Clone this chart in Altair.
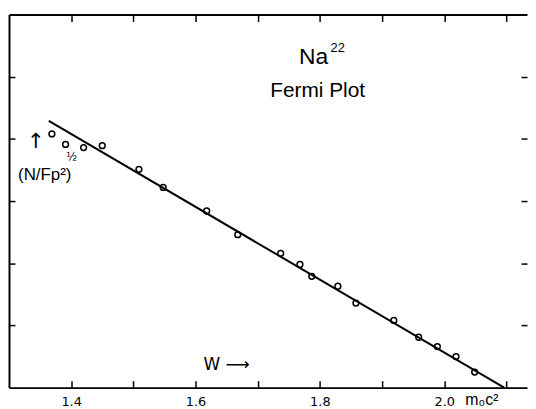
import altair as alt
import pandas as pd

# measured data (W in m0c^2 units, Kurie value in axis units)
W_pts = [1.369, 1.391, 1.420, 1.450, 1.509, 1.548, 1.618, 1.668, 1.737,
         1.768, 1.787, 1.829, 1.858, 1.919, 1.959, 1.989, 2.019, 2.049]
K_pts = [4.08, 3.91, 3.86, 3.89, 3.51, 3.22, 2.84, 2.46, 2.16,
         1.98, 1.79, 1.63, 1.36, 1.08, 0.81, 0.66, 0.50, 0.25]

# fitted straight line
fit_W = [1.364, 2.0965]
fit_K = [4.29, 0.0]

x_tick_values = [1.4, 1.5, 1.6, 1.7, 1.8, 1.9, 2.0, 2.1]
x_label_values = [1.4, 1.6, 1.8, 2.0]
y_tick_values = [1, 2, 3, 4, 5]

x_domain = [1.3, 2.1332]
y_domain = [0, 6]

# annotations, centred
c_text = ["Na", "Fermi Plot", "(N/Fp²)", "½"]
c_W = [1.790, 1.7964, 1.3575, 1.4010]
c_K = [5.202, 4.675, 3.335, 3.64]
c_size = [23, 21, 17, 12]
# annotations, left aligned
l_text = ["22", "m₀c²"]
l_W = [1.8172, 2.0340]
l_K = [5.40, -0.287]
l_size = [13, 16]
# arrows (DejaVu glyphs)
a_text = ["↑", "W ⟶"]
a_W = [1.3431, 1.6128]
a_K = [3.846, 0.287]
a_size = [21, 17]
a_align_left = [False, True]

pts = pd.DataFrame({"W": W_pts, "K": K_pts})
fit = pd.DataFrame({"W": fit_W, "K": fit_K})
ann_c = pd.DataFrame({"W": c_W, "K": c_K, "t": c_text, "s": c_size})
ann_l = pd.DataFrame({"W": l_W, "K": l_K, "t": l_text, "s": l_size})
ann_a = pd.DataFrame({"W": a_W, "K": a_K, "t": a_text, "s": a_size, "left": a_align_left})

FONT = "DejaVu Sans"
TFONT = "Liberation Sans"
xs = alt.Scale(domain=x_domain, nice=False, zero=False)
ys = alt.Scale(domain=y_domain, nice=False, zero=False)

common = dict(grid=False, title=None, minExtent=0)

points = alt.Chart(pts).mark_point(
    shape="circle", filled=False, size=34, strokeWidth=1.5, color="black", opacity=1
).encode(
    x=alt.X("W:Q", scale=xs, axis=alt.Axis(
        orient="bottom", values=x_label_values, format=".1f", tickSize=0,
        domain=True, domainColor="black", domainWidth=2,
        labelFont=FONT, labelFontSize=13, labelColor="black", labelPadding=8,
        labelFlush=False, **common)),
    y=alt.Y("K:Q", scale=ys, axis=alt.Axis(
        orient="left", labels=False, ticks=False, domain=True,
        domainColor="black", domainWidth=2, **common)),
)

line = alt.Chart(fit).mark_line(color="black", strokeWidth=2).encode(
    x=alt.X("W:Q", scale=xs, axis=alt.Axis(
        orient="bottom", values=x_tick_values, offset=-7, tickSize=7,
        tickColor="black", tickWidth=1.5, domain=False, labels=False, **common)),
    y=alt.Y("K:Q", scale=ys, axis=alt.Axis(
        orient="left", values=y_tick_values, offset=-6, tickSize=6,
        tickColor="black", tickWidth=1.5, domain=False, labels=False, **common)),
)

texts_c = alt.Chart(ann_c).mark_text(font=TFONT, color="black", baseline="alphabetic", align="center").encode(
    x=alt.X("W:Q", scale=xs, axis=alt.Axis(
        orient="top", ticks=False, labels=False, domain=True,
        domainColor="black", domainWidth=2, **common)),
    y=alt.Y("K:Q", scale=ys, axis=alt.Axis(
        orient="right", values=y_tick_values, offset=-6, tickSize=6,
        tickColor="black", tickWidth=1.5, domain=False, labels=False, **common)),
    text="t:N",
    size=alt.Size("s:Q", scale=None, legend=None),
)

texts_l = alt.Chart(ann_l).mark_text(font=TFONT, color="black", baseline="alphabetic", align="left").encode(
    x=alt.X("W:Q", scale=xs, axis=alt.Axis(
        orient="top", values=x_tick_values, offset=-7, tickSize=7,
        tickColor="black", tickWidth=1.5, domain=False, labels=False, **common)),
    y=alt.Y("K:Q", scale=ys, axis=None),
    text="t:N",
    size=alt.Size("s:Q", scale=None, legend=None),
)

arrows_c = alt.Chart(ann_a[~ann_a["left"]]).mark_text(
    font=FONT, color="black", baseline="alphabetic", align="center"
).encode(
    x=alt.X("W:Q", scale=xs, axis=None),
    y=alt.Y("K:Q", scale=ys, axis=None),
    text="t:N",
    size=alt.Size("s:Q", scale=None, legend=None),
)

arrows_l = alt.Chart(ann_a[ann_a["left"]]).mark_text(
    font=FONT, color="black", baseline="alphabetic", align="left"
).encode(
    x=alt.X("W:Q", scale=xs, axis=None),
    y=alt.Y("K:Q", scale=ys, axis=None),
    text="t:N",
    size=alt.Size("s:Q", scale=None, legend=None),
)

chart = alt.layer(points, line, texts_c, texts_l, arrows_c, arrows_l).resolve_axis(
    x="independent", y="independent"
).properties(
    width=522, height=376,
    padding={"left": 0, "top": 4, "right": 0, "bottom": 0},
    background="white",
).configure_view(strokeWidth=0)

chart.save("out.html", embed_options={"renderer": "svg", "actions": False})
